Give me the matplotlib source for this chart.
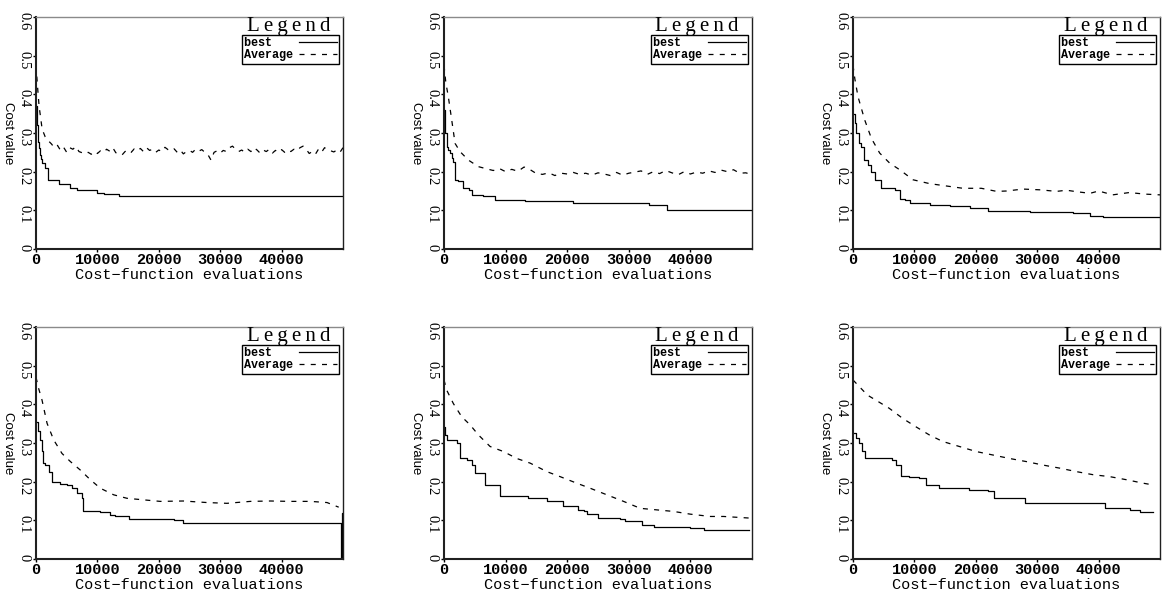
import numpy as np
import matplotlib
matplotlib.use("Agg")
import matplotlib.pyplot as plt
from matplotlib.font_manager import FontProperties

# ---- data (x = cost-function evaluations) ----
x_ticks = [0, 10000, 20000, 30000, 40000]
y_ticks = [0, 0.1, 0.2, 0.3, 0.4, 0.5, 0.6]
y_tick_labels = ["0", "0.1", "0.2", "0.3", "0.4", "0.5", "0.6"]

# panel 1
best1_x = [0, 150, 300, 450, 600, 800, 1000, 1500, 2000, 3700, 5600, 6700, 9900, 11000, 13500, 50000]
best1_y = [0.37, 0.32, 0.278, 0.26, 0.243, 0.232, 0.222, 0.209, 0.179, 0.168, 0.157, 0.152, 0.144, 0.142, 0.136, 0.136]
avg1_x = [0, 250, 500, 750, 1000, 1500, 2000] + list(np.arange(2500, 50001, 500))
avg1_y = [0.475, 0.42, 0.37, 0.34, 0.31, 0.29, 0.28,
          0.272, 0.262, 0.268, 0.255, 0.263, 0.250, 0.262, 0.258, 0.265, 0.252,
          0.249, 0.246, 0.250, 0.245, 0.252, 0.247, 0.254, 0.250, 0.258, 0.253,
          0.262, 0.249, 0.246, 0.243, 0.252, 0.256, 0.250, 0.259, 0.254, 0.260,
          0.252, 0.262, 0.255, 0.258, 0.250, 0.256, 0.252, 0.263, 0.257, 0.254,
          0.259, 0.250, 0.256, 0.246, 0.252, 0.255, 0.250, 0.258, 0.253, 0.257,
          0.250, 0.244, 0.230, 0.250, 0.254, 0.248, 0.255, 0.252, 0.262, 0.266,
          0.258, 0.252, 0.256, 0.250, 0.258, 0.252, 0.262, 0.256, 0.248, 0.256,
          0.252, 0.258, 0.248, 0.255, 0.250, 0.257, 0.250, 0.256, 0.252, 0.258,
          0.254, 0.262, 0.266, 0.258, 0.247, 0.252, 0.245, 0.258, 0.250, 0.262,
          0.256, 0.254, 0.251, 0.256, 0.250, 0.262]

# panel 2
best2_x = [0, 200, 430, 700, 975, 1250, 1500, 1800, 2300, 3100, 4000, 4500, 6400, 8300, 13200, 21000, 33200, 36200, 43300, 50000]
best2_y = [0.36, 0.30, 0.265, 0.255, 0.248, 0.235, 0.226, 0.179, 0.175, 0.157, 0.152, 0.140, 0.136, 0.127, 0.123, 0.119, 0.115, 0.101, 0.100, 0.100]
avg2_x = [0, 300, 700, 1250, 1800, 2600, 3950, 5580, 7000] + list(np.arange(8000, 50001, 1000))
avg2_y = [0.475, 0.43, 0.394, 0.334, 0.273, 0.252, 0.23, 0.213, 0.207,
          0.203, 0.208, 0.200, 0.206, 0.201, 0.212, 0.205, 0.195, 0.193, 0.197,
          0.190, 0.196, 0.194, 0.198, 0.193, 0.196, 0.191, 0.197, 0.194, 0.190,
          0.198, 0.191, 0.196, 0.199, 0.202, 0.193, 0.200, 0.195, 0.203, 0.197,
          0.192, 0.200, 0.194, 0.199, 0.196, 0.202, 0.198, 0.204, 0.200, 0.205,
          0.196, 0.197, 0.192]

# panel 3
best3_x = [0, 270, 540, 925, 1360, 1740, 2450, 3000, 3530, 4620, 6800, 7600, 8400, 9240, 12500, 15760, 19000, 22000, 28800, 35870, 38600, 40760, 50000]
best3_y = [0.35, 0.325, 0.30, 0.273, 0.265, 0.23, 0.218, 0.20, 0.179, 0.157, 0.153, 0.129, 0.127, 0.119, 0.114, 0.11, 0.106, 0.099, 0.095, 0.093, 0.086, 0.082, 0.082]
avg3_x = [0, 300, 815, 1900, 3000, 4350, 5980, 7600, 9780, 12500, 15200, 17900, 20900, 23400, 25000, 27700, 30500, 33150, 34780, 36500, 38600, 40000, 42300, 45000, 47500, 50000]
avg3_y = [0.475, 0.44, 0.394, 0.334, 0.286, 0.248, 0.222, 0.205, 0.179, 0.169, 0.163, 0.157, 0.157, 0.149, 0.150, 0.155, 0.153, 0.149, 0.152, 0.148, 0.144, 0.150, 0.140, 0.146, 0.142, 0.140]

# panel 4
best4_x = [0, 300, 700, 900, 1140, 1520, 2060, 2600, 3960, 5050, 5860, 6680, 7500, 7650, 10480, 12100, 12900, 15100, 22400, 24000, 49600, 49750, 49850, 50000]
best4_y = [0.355, 0.33, 0.308, 0.28, 0.248, 0.243, 0.226, 0.20, 0.194, 0.192, 0.183, 0.17, 0.157, 0.123, 0.121, 0.114, 0.11, 0.103, 0.101, 0.093, 0.089, 0.0, 0.118, 0.118]
avg4_x = [0, 430, 980, 1800, 2880, 4230, 5600, 7220, 8850, 10480, 12650, 14820, 17500, 20250, 24000, 27850, 31100, 34900, 38200, 41400, 44700, 47400, 49300]
avg4_y = [0.47, 0.441, 0.411, 0.351, 0.308, 0.273, 0.252, 0.23, 0.205, 0.183, 0.166, 0.157, 0.153, 0.149, 0.150, 0.146, 0.144, 0.149, 0.150, 0.149, 0.149, 0.146, 0.134]

# panel 5
best5_x = [0, 200, 430, 2060, 2600, 3680, 4500, 5040, 6660, 9100, 13700, 16680, 19390, 20480, 21830, 22650, 23190, 25080, 26980, 28600, 29410, 32120, 34020, 38900, 39980, 42150, 49500]
best5_y = [0.342, 0.32, 0.308, 0.299, 0.26, 0.256, 0.243, 0.222, 0.192, 0.162, 0.157, 0.15, 0.138, 0.136, 0.126, 0.123, 0.116, 0.107, 0.106, 0.103, 0.097, 0.089, 0.084, 0.082, 0.08, 0.076, 0.074]
avg5_x = [0, 430, 1520, 2870, 4230, 5580, 7480, 9640, 11810, 13980, 16690, 18850, 21560, 23730, 26440, 29150, 31860, 34570, 37270, 39980, 43230, 45390, 49460]
avg5_y = [0.463, 0.437, 0.402, 0.368, 0.347, 0.321, 0.291, 0.278, 0.26, 0.248, 0.226, 0.213, 0.196, 0.183, 0.166, 0.149, 0.131, 0.127, 0.123, 0.116, 0.11, 0.11, 0.106]

# panel 6
best6_x = [0, 500, 980, 1500, 1960, 6430, 6970, 7790, 9150, 10780, 11870, 14050, 18950, 21950, 23040, 27940, 41010, 45100, 46730, 48910]
best6_y = [0.325, 0.312, 0.299, 0.28, 0.26, 0.256, 0.243, 0.215, 0.213, 0.209, 0.192, 0.183, 0.179, 0.177, 0.157, 0.146, 0.132, 0.127, 0.121, 0.121]
avg6_x = [0, 2340, 3700, 5880, 8060, 10240, 12420, 14600, 17320, 20040, 22770, 25490, 28210, 30930, 33660, 36380, 39100, 41820, 44540, 47270, 48360]
avg6_y = [0.463, 0.424, 0.411, 0.39, 0.364, 0.342, 0.321, 0.304, 0.291, 0.278, 0.269, 0.26, 0.252, 0.243, 0.235, 0.226, 0.218, 0.213, 0.205, 0.196, 0.193]

panels = [
    (best1_x, best1_y, avg1_x, avg1_y),
    (best2_x, best2_y, avg2_x, avg2_y),
    (best3_x, best3_y, avg3_x, avg3_y),
    (best4_x, best4_y, avg4_x, avg4_y),
    (best5_x, best5_y, avg5_x, avg5_y),
    (best6_x, best6_y, avg6_x, avg6_y),
]

W, H = 1165, 591
fig = plt.figure(figsize=(W / 100, H / 100), dpi=100)

# axes boxes in pixels: left, right / top, bottom
cols = [(36, 343), (444, 752), (853, 1160)]
rows = [(17, 249), (327, 559)]

mono = ["Liberation Mono", "DejaVu Sans Mono"]
serif = ["Liberation Serif", "DejaVu Serif"]
tick_font = FontProperties(family=mono, weight="bold", size=11)
ytick_font = FontProperties(family=serif, size=10.5)
leg_font = FontProperties(family=mono, weight="bold", size=8.5)

for i, (bx, by, ax_x, ax_y) in enumerate(panels):
    top, bot = rows[i // 3]
    left, right = cols[i % 3]
    ax = fig.add_axes([left / W, 1 - bot / H, (right - left) / W, (bot - top) / H])

    # pad "best" so the mono labels stay left aligned in the legend
    ax.plot(bx, by, color="black", lw=0.9, drawstyle="steps-post", label="best   ")
    ax.plot(ax_x, ax_y, color="black", lw=0.9, linestyle=(0, (4, 5)), label="Average")

    ax.set_xlim(0, 50000)
    ax.set_ylim(0, 0.6)
    ax.set_xticks(x_ticks)
    ax.set_xticklabels([str(t) for t in x_ticks], fontproperties=tick_font)
    ax.set_yticks(y_ticks)
    ax.set_yticklabels(y_tick_labels, rotation=270, fontproperties=ytick_font)
    ax.tick_params(direction="out", length=2.5, width=1)
    ax.tick_params(axis="x", pad=0.5)
    ax.tick_params(axis="y", pad=1.5)

    for s in ["left", "bottom"]:
        ax.spines[s].set_linewidth(1.5)
        ax.spines[s].set_color("#202020")
    ax.spines["top"].set_color("#8a8a8a")
    ax.spines["top"].set_linewidth(1.0)
    ax.spines["right"].set_color("#202020")
    ax.spines["right"].set_linewidth(1.0)

    ax.set_xlabel("Cost\u2212function evaluations", fontfamily=mono, fontsize=11, va="center")
    ax.xaxis.set_label_coords(0.5, -0.112)
    ax.set_ylabel("Cost value", fontfamily=["Liberation Sans", "DejaVu Sans"], fontsize=9.5,
                  rotation=270, va="center", ha="center")
    ax.yaxis.set_label_coords(-0.092, 0.5)

    leg = ax.legend(loc="upper right", bbox_to_anchor=(0.987, 0.922), borderaxespad=0,
                    markerfirst=False, fancybox=False, edgecolor="black", framealpha=1,
                    prop=leg_font, handlelength=3.2, handletextpad=0.5,
                    labelspacing=0.0, borderpad=0.2)
    leg.get_frame().set_linewidth(1.0)
    ax.text(0.822, 0.957, "L\u2009e\u2009g\u2009e\u2009n\u2009d", transform=ax.transAxes,
            ha="center", va="center", fontsize=15, fontfamily=serif)

fig.savefig("out.png", dpi=100)
